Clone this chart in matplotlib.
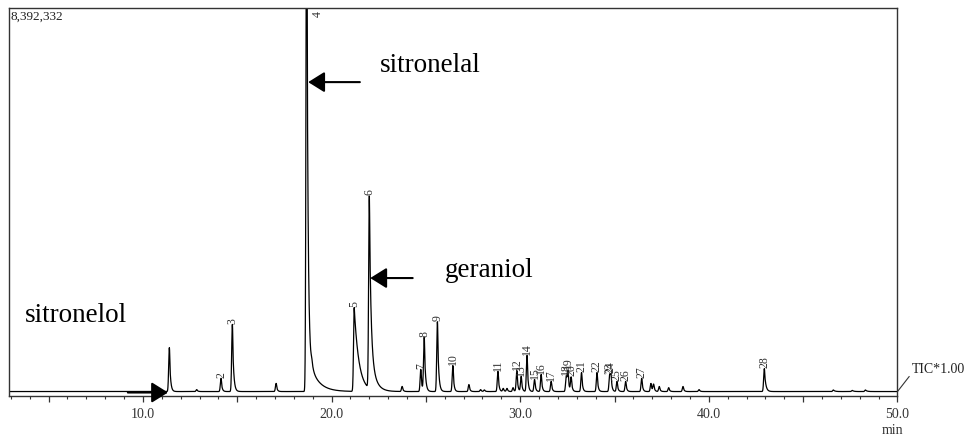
import numpy as np
import matplotlib
matplotlib.use('Agg')
import matplotlib.pyplot as plt
from matplotlib.ticker import MultipleLocator, FuncFormatter

# peak table (retention time in min, height in % of 8,392,332)
peak_rt = [11.40, 12.85, 14.14, 14.74, 17.06, 18.68, 18.68, 18.95, 21.20, 22.00, 22.00,
           23.74, 24.73, 24.91, 25.61, 26.43, 27.28, 27.90, 28.10, 28.82, 29.10, 29.30,
           29.62, 29.82, 30.05, 30.36, 30.76, 31.11, 31.64, 32.44, 32.53, 32.70, 33.25,
           34.07, 34.74, 34.81, 35.13, 35.59, 36.44, 36.93, 37.07, 37.37, 37.87, 38.63,
           39.48, 42.94, 46.60, 47.60, 48.30]
peak_height = [11.3, 0.5, 3.4, 17.3, 2.1, 130.0, 10.6, 1.5, 21.6, 37.6, 11.9,
               1.3, 5.7, 13.9, 18.0, 6.7, 1.8, 0.5, 0.4, 5.2, 0.8, 0.8,
               1.0, 5.4, 3.9, 9.3, 3.1, 4.4, 2.6, 3.9, 4.9, 3.6, 4.9,
               4.9, 3.9, 3.6, 2.6, 2.6, 3.4, 2.1, 1.8, 1.3, 1.0, 1.3,
               0.5, 5.9, 0.4, 0.3, 0.4]
peak_tail = [0.055, 0.05, 0.05, 0.06, 0.05, 0.06, 0.45, 0.08, 0.25, 0.08, 0.25,
             0.05, 0.05, 0.06, 0.06, 0.05, 0.05, 0.05, 0.05, 0.05, 0.05, 0.05,
             0.05, 0.05, 0.05, 0.05, 0.05, 0.05, 0.05, 0.05, 0.05, 0.05, 0.05,
             0.05, 0.05, 0.05, 0.05, 0.05, 0.05, 0.05, 0.05, 0.05, 0.05, 0.05,
             0.05, 0.07, 0.08, 0.08, 0.08]
peak_label = ['', '', '2', '3', '', '4', '', '', '5', '6', '',
              '', '7', '8', '9', '10', '', '', '', '11', '', '',
              '', '12', '13', '14', '15', '16', '17', '18', '19', '20', '21',
              '22', '23', '24', '25', '26', '27', '', '', '', '', '',
              '', '28', '', '', '']
baseline = 1.15
full_scale = '8,392,332'

plt.rcParams['font.family'] = ['Liberation Serif', 'DejaVu Serif']

t = np.arange(2.9, 50.0005, 0.004)
sig = np.full_like(t, baseline)
sigma = 0.035
for rt, h, tau in zip(peak_rt, peak_height, peak_tail):
    d = t - rt
    g = h * np.exp(-0.5 * (d / sigma) ** 2)
    e = np.where(d >= 0, h * np.exp(-np.clip(d, 0, None) / tau), 0)
    sig += np.maximum(g, e)

fig = plt.figure(figsize=(9.64, 4.39), dpi=100)
ax = fig.add_axes([9 / 964, 1 - 397 / 439, 888.5 / 964, 388 / 439])
ax.plot(t, sig, color='black', lw=0.9)
ax.set_xlim(2.9, 50.0)
ax.set_ylim(0, 100)

# peak numbers, drawn just above the top of the trace at each peak
for rt, lab in zip(peak_rt, peak_label):
    if not lab:
        continue
    top = sig[np.abs(t - rt).argmin()]
    if top > 100:
        ax.text(rt + 0.6, 99.5, lab, rotation=90, ha='center', va='top', fontsize=8.5, color='#333')
    else:
        ax.text(rt, top + 0.4, lab, rotation=90, ha='center', va='bottom', fontsize=8.5, color='#333')

# axis styling
for s in ['left', 'right', 'top', 'bottom']:
    ax.spines[s].set_linewidth(1.0)
    ax.spines[s].set_color('#333')
ax.yaxis.set_visible(False)
ax.xaxis.set_major_locator(MultipleLocator(5))
ax.xaxis.set_minor_locator(MultipleLocator(1))
ax.xaxis.set_major_formatter(FuncFormatter(lambda v, p: f'{v:.1f}' if abs(v % 10) < 1e-6 or abs(v % 10 - 10) < 1e-6 else ''))
ax.tick_params(axis='x', which='major', direction='out', length=4, width=0.9, colors='#333',
               labelsize=10, pad=4)
ax.tick_params(axis='x', which='minor', direction='out', length=2, width=0.8, colors='#333')

ax.text(0.002, 0.995, full_scale, transform=ax.transAxes, ha='left', va='top', fontsize=9.5, color='#222')
fig.text(893 / 964, 1 - 431 / 439, 'min', ha='center', va='center', fontsize=10, color='#333')

# compound names with arrows
arrow = dict(arrowstyle='-|>,head_length=0.4,head_width=0.25', mutation_scale=25,
             lw=1.5, color='black', shrinkA=0, shrinkB=0)
ax.annotate('', xy=(18.76, 80.9), xytext=(21.5, 80.9), arrowprops=arrow)
ax.text(22.57, 83.8, 'sitronelal', fontsize=19.5, ha='left', va='baseline')
ax.annotate('', xy=(22.05, 30.4), xytext=(24.3, 30.4), arrowprops=arrow)
ax.text(26.0, 30.9, 'geraniol', fontsize=19.5, ha='left', va='baseline')
ax.annotate('', xy=(11.33, 0.9), xytext=(9.2, 0.9), arrowprops=arrow, annotation_clip=False)
ax.text(3.72, 19.3, 'sitronelol', fontsize=19.5, ha='left', va='baseline')

ax.annotate('TIC*1.00', xy=(50.0, baseline), xycoords='data', xytext=(912, 439 - 370),
            textcoords='figure pixels', ha='left', va='center', fontsize=10, color='#222',
            annotation_clip=False,
            arrowprops=dict(arrowstyle='-', lw=0.8, color='#333', shrinkA=0, shrinkB=0, relpos=(0, 0.2)))

fig.savefig('out.png', dpi=100)
